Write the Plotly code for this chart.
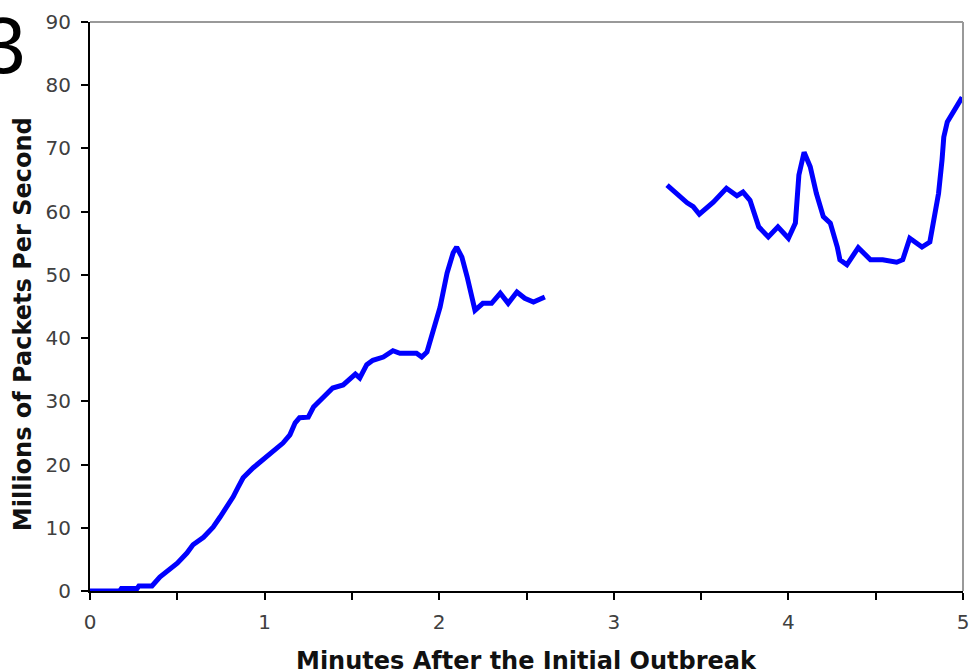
import plotly.graph_objects as go

# Segment 1 (minutes, millions of packets/s)
x1 = [0.0, 0.17, 0.18, 0.27, 0.28, 0.355, 0.40, 0.44, 0.50, 0.555, 0.59, 0.65, 0.705, 0.745,
      0.785, 0.82, 0.85, 0.877, 0.935, 0.99, 1.05, 1.105, 1.145, 1.175, 1.20, 1.25, 1.28,
      1.335, 1.39, 1.45, 1.49, 1.52, 1.545, 1.585, 1.62, 1.68, 1.735, 1.775, 1.87, 1.90,
      1.93, 1.965, 2.005, 2.045, 2.08, 2.10, 2.13, 2.16, 2.205, 2.25, 2.30, 2.35, 2.395,
      2.445, 2.49, 2.54, 2.565, 2.605]
y1 = [0.0, 0.0, 0.4, 0.4, 0.8, 0.8, 2.2, 3.0, 4.4, 6.0, 7.3, 8.5, 10.1, 11.7,
      13.3, 14.9, 16.5, 17.9, 19.5, 20.7, 22.0, 23.4, 24.7, 26.6, 27.4, 27.5, 29.1,
      30.7, 32.1, 32.6, 33.7, 34.3, 33.7, 35.8, 36.5, 37.0, 38.0, 37.6, 37.6, 37.0,
      37.8, 41.3, 44.9, 50.3, 53.5, 54.4, 52.8, 49.7, 44.4, 45.5, 45.5, 47.1, 45.5,
      47.3, 46.3, 45.7, 46.0, 46.5]

# Segment 2
x2 = [3.305, 3.38, 3.42, 3.455, 3.49, 3.57, 3.645, 3.705, 3.74, 3.78, 3.83, 3.885, 3.94,
      4.0, 4.04, 4.06, 4.09, 4.125, 4.16, 4.2, 4.24, 4.28, 4.295, 4.335, 4.40, 4.47,
      4.54, 4.62, 4.655, 4.695, 4.765, 4.81, 4.83, 4.86, 4.88, 4.89, 4.91, 4.955, 4.995]
y2 = [64.2, 62.3, 61.4, 60.8, 59.6, 61.5, 63.7, 62.5, 63.1, 61.8, 57.6, 56.0, 57.6,
      55.8, 58.2, 65.8, 69.4, 67.1, 62.9, 59.2, 58.2, 54.4, 52.4, 51.6, 54.3, 52.4,
      52.4, 52.0, 52.4, 55.8, 54.4, 55.2, 58.7, 62.9, 68.2, 71.8, 74.2, 76.1, 78.1]

x_tickvals = [0, 0.5, 1, 1.5, 2, 2.5, 3, 3.5, 4, 4.5, 5]
x_ticktext = ["0", "", "1", "", "2", "", "3", "", "4", "", "5"]
y_tickvals = [0, 10, 20, 30, 40, 50, 60, 70, 80, 90]

x_title = "Minutes After the Initial Outbreak"
y_title = "Millions of Packets Per Second"
panel_label = "3"

fig = go.Figure()
line_style = dict(color="#0000FF", width=5)
fig.add_trace(go.Scatter(x=x1, y=y1, mode="lines", line=line_style, showlegend=False))
fig.add_trace(go.Scatter(x=x2, y=y2, mode="lines", line=line_style, showlegend=False))

tickfont = dict(family="DejaVu Sans", size=20, color="#404040")

fig.update_layout(
    width=969, height=672,
    margin=dict(l=90, r=6, t=22, b=81, autoexpand=False),
    paper_bgcolor="white", plot_bgcolor="white",
    xaxis=dict(range=[0, 5], tickvals=x_tickvals, ticktext=x_ticktext,
               showgrid=False, zeroline=False, showline=True, linecolor="black",
               linewidth=2, ticks="outside", ticklen=7, tickwidth=2, tickcolor="black",
               tickfont=tickfont, ticklabelstandoff=5, ticklabeloverflow="allow",
               automargin=False),
    yaxis=dict(range=[0, 90], tickvals=y_tickvals,
               showgrid=False, zeroline=False, showline=True, linecolor="black",
               linewidth=2, ticks="outside", ticklen=7, tickwidth=2, tickcolor="black",
               tickfont=tickfont, ticklabelstandoff=6, ticklabeloverflow="allow",
               automargin=False),
    shapes=[
        dict(type="line", xref="paper", yref="paper", x0=0, x1=1, y0=1, y1=1,
             line=dict(color="#999999", width=2)),
        dict(type="line", xref="paper", yref="paper", x0=1, x1=1, y0=0, y1=1,
             line=dict(color="#999999", width=2)),
    ],
    annotations=[
        dict(text=x_title, xref="paper", yref="paper", x=0.5, y=-0.095,
             xanchor="center", yanchor="top", showarrow=False,
             font=dict(family="DejaVu Sans", size=24, color="#111111", weight="bold")),
        dict(text=y_title, xref="paper", yref="paper", x=-0.0767, y=0.469,
             xanchor="center", yanchor="middle", textangle=-90, showarrow=False,
             font=dict(family="DejaVu Sans", size=24, color="#111111", weight="bold")),
        dict(text=panel_label, xref="paper", yref="paper", x=-0.071, y=0.958,
             xanchor="right", yanchor="middle", showarrow=False,
             font=dict(family="Liberation Sans", size=80, color="black")),
    ],
)

fig.write_html("out.html", config={"displayModeBar": False},
               post_script="document.body.style.margin='0px';")
